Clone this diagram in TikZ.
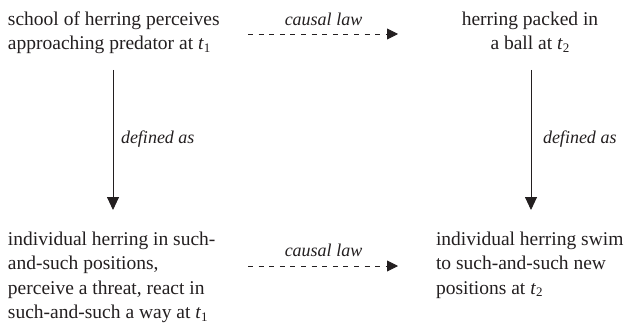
\documentclass[tikz,border=0pt]{standalone}
\usepackage{fontspec}
\setmainfont{Liberation Serif}
\usetikzlibrary{arrows.meta}
\definecolor{ink}{HTML}{231F20}
\newcommand{\tsb}[1]{\textit{t}\raisebox{-0.28ex}{\fontsize{13}{13}\selectfont #1}}
\tikzset{
  txt/.style={inner sep=0pt, outer sep=0pt, text=ink, font=\fontsize{19.5}{24.6}\selectfont},
  lbl/.style={inner sep=0pt, outer sep=0pt, text=ink, font=\fontsize{18}{22}\selectfont\itshape},
  causal/.style={draw=ink, line width=0.9pt, dash pattern=on 5pt off 5.6pt, -{Triangle[length=11pt,width=11pt]}},
  defarrow/.style={draw=ink, line width=0.9pt, -{Triangle[length=13pt,width=12pt]}}
}
\begin{document}
\begin{tikzpicture}[x=1pt,y=-1pt]
\useasboundingbox (0,0) rectangle (626,326);
% text blocks (base anchor = baseline of last line)
\node[txt, anchor=base west, align=left] (tl) at (8,50) {school of herring perceives\\approaching predator at \tsb{1}};
\node[txt, anchor=base, align=center] (tr) at (530,50) {herring packed in\\a ball at \tsb{2}};
\node[txt, anchor=base west, align=left] (bl) at (8,318.8) {individual herring in such-\\and-such positions,\\perceive a threat, react in\\such-and-such a way at \tsb{1}};
\node[txt, anchor=base west, align=left] (br) at (436,294.2) {individual herring swim\\to such-and-such new\\positions at \tsb{2}};
% connector ends
\coordinate (c1s) at (248,34);
\coordinate (c1e) at (398,34);
\coordinate (c2s) at (248,266);
\coordinate (c2e) at (398,266);
\coordinate (d1s) at (113,70);
\coordinate (d1e) at (113,210);
\coordinate (d2s) at (531,70);
\coordinate (d2e) at (531,210);
% arrows
\draw[causal] (c1s) -- (c1e);
\draw[causal] (c2s) -- (c2e);
\draw[defarrow] (d1s) -- (d1e);
\draw[defarrow] (d2s) -- (d2e);
% labels
\node[lbl, anchor=base] (l1) at (323.5,26) {causal law};
\node[lbl, anchor=base] (l2) at (323.5,256) {causal law};
\node[lbl, anchor=base west] (l3) at (121,143) {defined as};
\node[lbl, anchor=base west] (l4) at (543,143) {defined as};
\end{tikzpicture}
\end{document}
